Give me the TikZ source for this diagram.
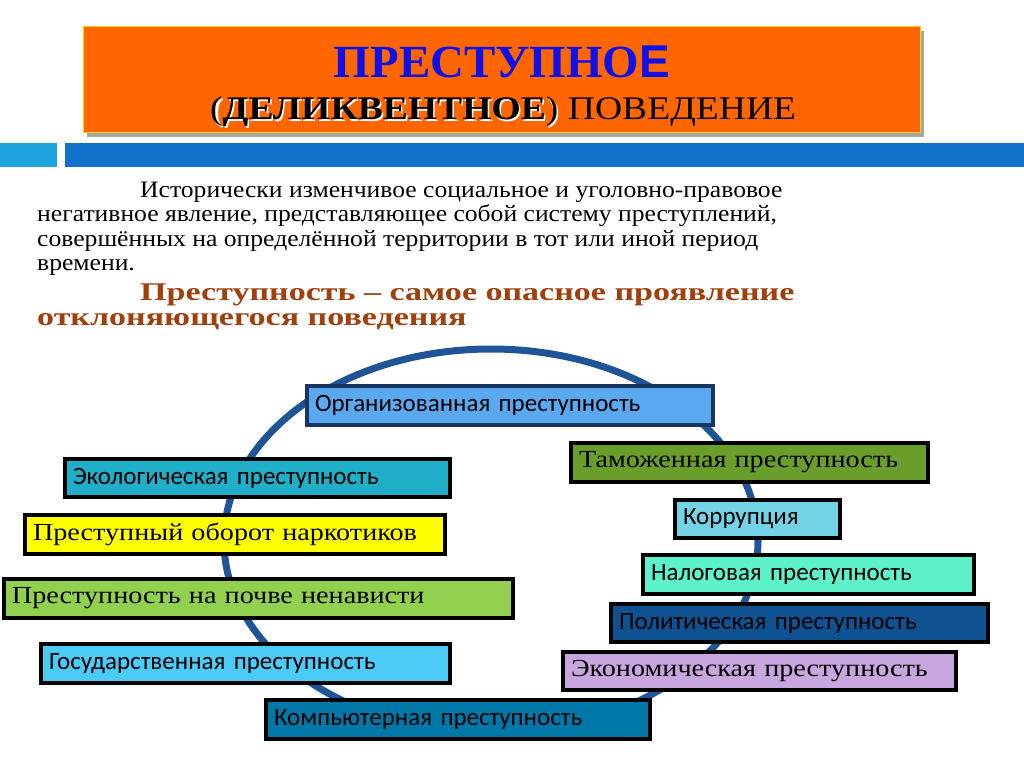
\documentclass[tikz,border=0pt]{standalone}
\usepackage{fontspec}
\setmainfont{Liberation Serif}
\newfontfamily\bodyserif[FakeStretch=1.09]{Liberation Serif}
\newfontfamily\brownserif[FakeStretch=1.335]{Liberation Serif}
\newfontfamily\boxserif[FakeStretch=1.15]{Liberation Serif}
\newfontfamily\titleserif[FakeStretch=1.02]{Liberation Serif}
\newfontfamily\titleserifb[FakeStretch=1.14]{Liberation Serif}
\newfontfamily\titlesans[FakeStretch=1.0]{Liberation Sans}
\newfontfamily\boxsans{Carlito}
\definecolor{orangebg}{HTML}{FF6600}
\definecolor{titleblue}{HTML}{1010E8}
\definecolor{lightbar}{HTML}{1EA5E0}
\definecolor{darkbar}{HTML}{1170C7}
\definecolor{brownt}{HTML}{A0400C}
\definecolor{ring}{HTML}{1F5596}
\definecolor{cOrg}{HTML}{5AA9F0}
\definecolor{cEco}{HTML}{21AEC8}
\definecolor{cNarc}{HTML}{FFFF00}
\definecolor{cHate}{HTML}{92D050}
\definecolor{cGos}{HTML}{4DCBF7}
\definecolor{cComp}{HTML}{0078A7}
\definecolor{cTam}{HTML}{6A9E2B}
\definecolor{cKorr}{HTML}{72D3E6}
\definecolor{cNal}{HTML}{5DF2C9}
\definecolor{cPol}{HTML}{0F5291}
\definecolor{cEcon}{HTML}{C8A6E0}
\definecolor{navyedge}{HTML}{1A3560}
\tikzset{
  crimebox/.style={draw=black, line width=4pt, anchor=north west, inner xsep=8pt, inner ysep=0pt, align=left, text=black},
  sanslabel/.style={font=\boxsans\fontsize{25}{28}\selectfont},
  seriflabel/.style={font=\boxserif\fontsize{24.5}{28}\selectfont},
  bodyline/.style={anchor=base west, inner sep=0pt, font=\bodyserif\fontsize{23.5}{24}\selectfont},
  brownline/.style={anchor=base west, inner sep=0pt, text=brownt, font=\brownserif\bfseries\fontsize{25.5}{26}\selectfont},
}
\newcommand{\cbox}[8]{% name, x1, y1, x2, y2, fill, style, text
  \pgfmathsetmacro{\bw}{#4-#2-4}\pgfmathsetmacro{\bh}{#5-#3-4}\pgfmathsetmacro{\tw}{\bw-16}
  \node[crimebox, #7, fill=#6, minimum width=\bw pt, minimum height=\bh pt, text width=\tw pt] (#1) at (#2+2,#3+2) {#8};}
\begin{document}
\begin{tikzpicture}[x=1pt, y=-1pt]
\useasboundingbox (0,0) rectangle (1024,767);
\fill[white] (0,0) rectangle (1024,767);
% title
\fill[gray!70] (87,31) rectangle (924,137);
\draw[fill=orangebg, draw=yellow!70!orange, line width=1pt] (83,27) rectangle (920,133);
\node[anchor=base, inner sep=0pt, text=titleblue] (t1) at (502,78)
  {\titleserif\bfseries\fontsize{46}{50}\selectfont ПРЕСТУПНО\titlesans Е};
\node[anchor=base west, inner sep=0pt] (t2) at (210,120)
  {\titleserifb\fontsize{33}{36}\selectfont
   \rlap{\raisebox{-1.5pt}{\kern1.5pt\color{white}\bfseries(ДЕЛИКВЕНТНОЕ)}}(\textbf{ДЕЛИКВЕНТНОЕ}) ПОВЕДЕНИЕ};
% bars
\fill[lightbar] (0,143) rectangle (57,167);
\fill[darkbar] (65,143) rectangle (1024,167);
% body text
\node[bodyline] (b1) at (140,198) {Исторически изменчивое социальное и уголовно-правовое};
\node[bodyline] (b2) at (37,222) {негативное явление, представляющее собой систему преступлений,};
\node[bodyline] (b3) at (37,246) {совершённых на определённой территории в тот или иной период};
\node[bodyline] (b4) at (37,270) {времени.};
\node[brownline] (r1) at (140,300) {Преступность – самое опасное проявление};
\node[brownline] (r2) at (37,325) {отклоняющегося поведения};
% ring
\draw[ring, line width=7pt] (491,541) ellipse [x radius=267, y radius=192];
% boxes
\cbox{org}{303}{382}{713}{425}{cOrg}{sanslabel, draw=navyedge}{Организованная преступность}
\cbox{eco}{61}{455}{450}{497}{cEco}{sanslabel}{Экологическая преступность}
\cbox{narc}{21}{511}{445}{554}{cNarc}{seriflabel}{Преступный оборот наркотиков}
\cbox{hate}{0}{575}{513}{618}{cHate}{seriflabel}{Преступность на почве ненависти}
\cbox{gos}{37}{640}{450}{683}{cGos}{sanslabel}{Государственная преступность}
\cbox{comp}{262}{696}{650}{739}{cComp}{sanslabel}{Компьютерная преступность}
\cbox{tam}{567}{439}{928}{482}{cTam}{seriflabel}{Таможенная преступность}
\cbox{korr}{671}{496}{840}{538}{cKorr}{sanslabel}{Коррупция}
\cbox{nal}{639}{551}{974}{594}{cNal}{sanslabel}{Налоговая преступность}
\cbox{pol}{607}{600}{988}{642}{cPol}{sanslabel}{Политическая преступность}
\cbox{econ}{559}{648}{956}{690}{cEcon}{seriflabel}{Экономическая преступность}
\end{tikzpicture}
\end{document}
